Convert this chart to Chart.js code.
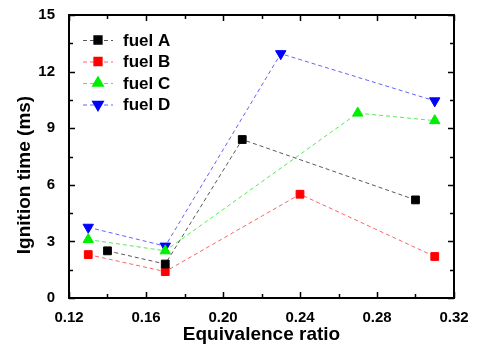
<!DOCTYPE html>
<html><head><meta charset="utf-8">
<script src="https://cdn.jsdelivr.net/npm/chart.js@4/dist/chart.umd.min.js"></script>
<style>html,body{margin:0;padding:0;background:#fff}#c{display:block}</style>
</head><body>
<canvas id="c" width="480" height="346"></canvas>
<script>
const seriesNames = ['fuel A','fuel B','fuel C','fuel D'];
const fuelA_x = [0.14, 0.17, 0.21, 0.30];
const fuelA_y = [2.5, 1.8, 8.4, 5.2];
const fuelB_x = [0.13, 0.17, 0.24, 0.31];
const fuelB_y = [2.3, 1.4, 5.5, 2.2];
const fuelC_x = [0.13, 0.17, 0.27, 0.31];
const fuelC_y = [3.1, 2.5, 9.8, 9.4];
const fuelD_x = [0.13, 0.17, 0.23, 0.31];
const fuelD_y = [3.75, 2.75, 12.95, 10.45];
const xTicks = [0.12, 0.16, 0.20, 0.24, 0.28, 0.32];
const yTicks = [0, 3, 6, 9, 12, 15];
const xTitle = 'Equivalence ratio';
const yTitle = 'Ignition time (ms)';

const pts = (xs, ys) => xs.map((x, i) => ({x, y: ys[i]}));
const FONT = '"Liberation Sans", Arial, sans-serif';

function ds(label, xs, ys, color, lineColor, style, rot, r) {
  return {
    label, data: pts(xs, ys),
    borderColor: lineColor, borderWidth: 1, borderDash: [4, 3],
    pointStyle: style, rotation: rot, pointRadius: r, pointHoverRadius: r,
    pointBackgroundColor: color, pointBorderColor: color, pointBorderWidth: 1,
    showLine: true, fill: false, tension: 0
  };
}

const datasets = [
  ds(seriesNames[0], fuelA_x, fuelA_y, '#000000', 'rgba(60,60,60,0.85)', 'rect', 0, 5.5),
  ds(seriesNames[1], fuelB_x, fuelB_y, '#ff0000', 'rgba(255,60,60,0.8)', 'rect', 0, 5.5),
  ds(seriesNames[2], fuelC_x, fuelC_y, '#00ee00', 'rgba(40,230,40,0.8)', 'triangle', 0, 6),
  ds(seriesNames[3], fuelD_x, fuelD_y, '#0000ff', 'rgba(60,60,255,0.8)', 'triangle', 180, 6)
];

const frameAndTicks = {
  id: 'frameAndTicks',
  afterDraw(chart) {
    const {ctx, chartArea: a, scales} = chart;
    ctx.save();
    ctx.strokeStyle = '#000';
    ctx.lineWidth = 2;
    ctx.strokeRect(a.left, a.top, a.right - a.left, a.bottom - a.top);
    ctx.lineWidth = 1.5;
    const xs = scales.x, ys = scales.y;
    ctx.beginPath();
    for (let i = 0; i < xTicks.length * 2 - 1; i++) {
      const v = xTicks[0] + i * 0.02;
      const px = Math.round(xs.getPixelForValue(v)) + 0.5;
      const len = i % 2 === 0 ? 6 : 4;
      ctx.moveTo(px, a.bottom); ctx.lineTo(px, a.bottom - len);
      ctx.moveTo(px, a.top); ctx.lineTo(px, a.top + len);
    }
    for (let i = 0; i < yTicks.length * 2 - 1; i++) {
      const v = i * 1.5;
      const py = Math.round(ys.getPixelForValue(v)) + 0.5;
      const len = i % 2 === 0 ? 6 : 4;
      ctx.moveTo(a.left, py); ctx.lineTo(a.left + len, py);
      ctx.moveTo(a.right, py); ctx.lineTo(a.right - len, py);
    }
    ctx.stroke();

    // axis titles
    ctx.fillStyle = '#000';
    ctx.font = 'bold 19px ' + FONT;
    ctx.textAlign = 'center'; ctx.textBaseline = 'middle';
    ctx.fillText(xTitle, (a.left + a.right) / 2, 335);
    ctx.save();
    ctx.translate(25, 175);
    ctx.rotate(-Math.PI / 2);
    ctx.fillText(yTitle, 0, 0);
    ctx.restore();

    // legend
    const lx0 = 83, lx1 = 113, tx = 123, y0 = 40, dy = 21.5;
    chart.data.datasets.forEach((d, i) => {
      const y = y0 + i * dy;
      ctx.save();
      ctx.strokeStyle = d.borderColor; ctx.lineWidth = 1; ctx.setLineDash([4, 3]);
      ctx.beginPath(); ctx.moveTo(lx0, y + 0.5); ctx.lineTo(lx1, y + 0.5); ctx.stroke();
      ctx.restore();
      ctx.fillStyle = d.pointBackgroundColor; ctx.strokeStyle = d.pointBorderColor;
      Chart.helpers.drawPoint(ctx, {pointStyle: d.pointStyle, rotation: d.rotation, radius: d.pointRadius, borderWidth: 1}, (lx0 + lx1) / 2, y);
      ctx.fillStyle = '#000';
      ctx.font = 'bold 17px ' + FONT;
      ctx.textBaseline = 'middle'; ctx.textAlign = 'left';
      ctx.fillText(d.label, tx, y + 1);
    });
    ctx.restore();
  }
};

new Chart(document.getElementById('c'), {
  type: 'scatter',
  data: {datasets},
  options: {
    responsive: false, animation: false,
    layout: {padding: {top: 15, right: 26, left: 0, bottom: 0}},
    plugins: {legend: {display: false}, tooltip: {enabled: false}},
    scales: {
      x: {
        type: 'linear', min: 0.12, max: 0.32,
        afterBuildTicks(s) { s.ticks = xTicks.map(v => ({value: v})); },
        grid: {display: false, drawTicks: false},
        border: {display: false},
        ticks: {color: '#000', padding: 11, font: {family: FONT, size: 15, weight: 'bold'},
          callback: v => v.toFixed(2)},
        title: {display: false},
        afterFit(s) { s.height = 48; s.paddingLeft = 0; s.paddingRight = 0; }
      },
      y: {
        type: 'linear', min: 0, max: 15,
        afterBuildTicks(s) { s.ticks = yTicks.map(v => ({value: v})); },
        grid: {display: false, drawTicks: false},
        border: {display: false},
        ticks: {color: '#000', padding: 14, font: {family: FONT, size: 15, weight: 'bold'}},
        title: {display: false},
        afterFit(s) { s.width = 69; s.paddingTop = 0; s.paddingBottom = 0; }
      }
    }
  },
  plugins: [frameAndTicks]
});
</script>
</body></html>
